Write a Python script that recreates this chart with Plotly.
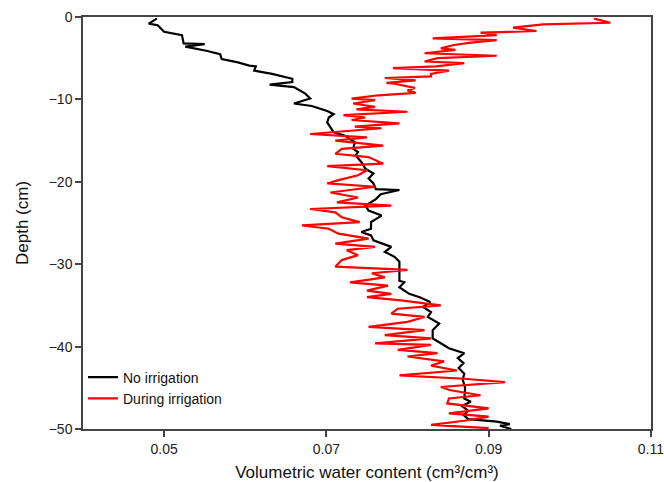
import plotly.graph_objects as go

# No irrigation (black)
dry_depth = [-0.2, -0.8, -1.0, -1.8, -2.2, -3.2, -3.3, -3.6, -4.1, -4.5, -5.1, -5.5, -5.9, -6.0, -6.5,
             -6.9, -7.5, -7.9, -8.2, -8.5, -9.3, -9.9, -10.5, -10.8, -11.4, -11.8, -12.2, -12.8, -13.1,
             -14.0, -14.4, -15.2, -16.0, -16.4, -16.8, -17.6, -18.4, -19.0, -19.6, -20.2, -20.9, -21.0,
             -21.5, -22.1, -22.9, -23.5, -24.1, -24.9, -25.7, -26.1, -26.5, -27.1, -27.9, -28.5, -29.1,
             -29.7, -32.0, -32.2, -32.8, -33.6, -34.0, -34.6, -35.2, -35.8, -36.4, -37.2, -38.0, -39.0,
             -39.6, -40.2, -40.8, -41.4, -42.0, -42.6, -43.3, -44.0, -45.0, -46.3, -46.7, -47.2, -47.8,
             -48.3, -48.8, -49.0, -49.1, -49.4, -49.6, -50.0]
dry_vwc = [0.0491, 0.0481, 0.0492, 0.0500, 0.0522, 0.0524, 0.0550, 0.0526, 0.0552, 0.0569, 0.0571,
           0.0591, 0.0605, 0.0613, 0.0611, 0.0633, 0.0658, 0.0658, 0.0630, 0.0660, 0.0674, 0.0680,
           0.0660, 0.0682, 0.0701, 0.0709, 0.0703, 0.0701, 0.0703, 0.0709, 0.0723, 0.0735, 0.0733,
           0.0739, 0.0736, 0.0743, 0.0748, 0.0758, 0.0752, 0.0758, 0.0761, 0.0790, 0.0767, 0.0761,
           0.0748, 0.0752, 0.0768, 0.0755, 0.0755, 0.0743, 0.0755, 0.0758, 0.0780, 0.0772, 0.0784,
           0.0790, 0.0790, 0.0796, 0.0790, 0.0802, 0.0815, 0.0828, 0.0819, 0.0829, 0.0825, 0.0839,
           0.0831, 0.0831, 0.0841, 0.0851, 0.0870, 0.0862, 0.0869, 0.0863, 0.0870, 0.0868, 0.0871,
           0.0870, 0.0878, 0.0867, 0.0875, 0.0869, 0.0875, 0.0894, 0.0910, 0.0926, 0.0914, 0.0928]

# During irrigation (red)
wet_depth = [-0.2, -0.7, -0.9, -1.3, -1.7, -1.9, -2.2, -2.6, -2.8, -3.1, -3.4, -3.8, -4.0, -4.4, -4.7,
             -5.0, -5.4, -5.6, -6.0, -6.2, -6.5, -6.9, -7.2, -7.4, -7.7, -8.0, -8.1, -8.6, -8.9, -9.2,
             -9.5, -9.9, -10.1, -10.5, -10.9, -11.2, -11.5, -11.9, -12.2, -12.5, -12.9, -13.3, -13.5,
             -14.2, -14.6, -15.0, -15.6, -16.0, -16.6, -17.0, -17.8, -18.1, -18.6, -19.2, -19.8, -20.2,
             -20.6, -21.3, -21.9, -22.5, -22.9, -23.3, -23.7, -24.3, -24.9, -25.3, -25.7, -26.3, -26.9,
             -27.5, -27.9, -28.3, -28.9, -29.5, -30.3, -30.7, -31.1, -31.6, -32.2, -32.6, -33.2, -33.6,
             -34.0, -34.4, -35.0, -35.4, -36.0, -36.4, -37.0, -37.6, -38.0, -38.6, -39.0, -39.6, -39.8,
             -40.4, -40.8, -41.2, -41.8, -42.3, -42.9, -43.5, -43.9, -44.3, -44.9, -45.3, -45.9, -46.3,
             -46.9, -47.5, -48.1, -48.5, -49.0, -49.5, -49.9]
wet_vwc = [0.1030, 0.1050, 0.0967, 0.0930, 0.0959, 0.0890, 0.0910, 0.0831, 0.0910, 0.0878, 0.0857,
           0.0841, 0.0859, 0.0821, 0.0910, 0.0837, 0.0821, 0.0870, 0.0835, 0.0782, 0.0851, 0.0829,
           0.0829, 0.0772, 0.0810, 0.0774, 0.0784, 0.0809, 0.0800, 0.0810, 0.0764, 0.0731, 0.0760,
           0.0733, 0.0760, 0.0737, 0.0800, 0.0721, 0.0748, 0.0731, 0.0790, 0.0735, 0.0768, 0.0680,
           0.0750, 0.0711, 0.0770, 0.0719, 0.0711, 0.0752, 0.0770, 0.0701, 0.0750, 0.0739, 0.0715,
           0.0701, 0.0760, 0.0705, 0.0739, 0.0713, 0.0780, 0.0680, 0.0711, 0.0719, 0.0741, 0.0670,
           0.0703, 0.0715, 0.0752, 0.0711, 0.0760, 0.0725, 0.0739, 0.0719, 0.0711, 0.0800, 0.0756,
           0.0772, 0.0729, 0.0776, 0.0750, 0.0780, 0.0750, 0.0792, 0.0841, 0.0788, 0.0780, 0.0821,
           0.0800, 0.0752, 0.0821, 0.0772, 0.0829, 0.0760, 0.0829, 0.0788, 0.0837, 0.0800, 0.0845,
           0.0829, 0.0861, 0.0790, 0.0870, 0.0920, 0.0841, 0.0853, 0.0890, 0.0851, 0.0849, 0.0900,
           0.0851, 0.0900, 0.0870, 0.0829, 0.0900]

x_ticks = [0.05, 0.07, 0.09, 0.11]
y_ticks = [0, -10, -20, -30, -40, -50]

fig = go.Figure()
fig.add_trace(go.Scatter(name='No irrigation', x=dry_vwc, y=dry_depth, mode='lines',
                         line=dict(color='black', width=2.2)))
fig.add_trace(go.Scatter(name='During irrigation', x=wet_vwc, y=wet_depth, mode='lines',
                         line=dict(color='#ff0000', width=2.2)))

axis_style = dict(showline=True, linecolor='#444444', linewidth=1.5, mirror=True,
                  showgrid=False, zeroline=False, ticks='outside', ticklen=6,
                  tickcolor='#444444', tickwidth=1.5, automargin=False,
                  ticklabeloverflow='allow',
                  tickfont=dict(size=14, color='#222222'))

fig.update_xaxes(range=[0.04, 0.11001], tickvals=x_ticks, ticktext=[str(v) for v in x_ticks],
                 title=dict(text='Volumetric water content (cm³/cm³)', font=dict(size=17, color='#111111'),
                            standoff=20),
                 **axis_style)
fig.update_yaxes(range=[-50, 0], tickvals=y_ticks,
                 title=dict(text='Depth (cm)', font=dict(size=17, color='#111111'), standoff=16),
                 **axis_style)

fig.update_layout(width=664, height=482, margin=dict(l=83, r=13, t=17, b=53),
                  plot_bgcolor='white', paper_bgcolor='white',
                  font=dict(family='Liberation Sans, Arial, sans-serif'),
                  legend=dict(x=0.0, y=0.035, xanchor='left', yanchor='bottom',
                              bgcolor='rgba(0,0,0,0)', font=dict(size=14, color='#111111'),
                              tracegroupgap=0, itemwidth=30))

# drop the browser's default 8px body margin so the figure sits at the page corner
fig.write_html("out.html", config={'displayModeBar': False},
               post_script="document.body.style.margin='0';")
